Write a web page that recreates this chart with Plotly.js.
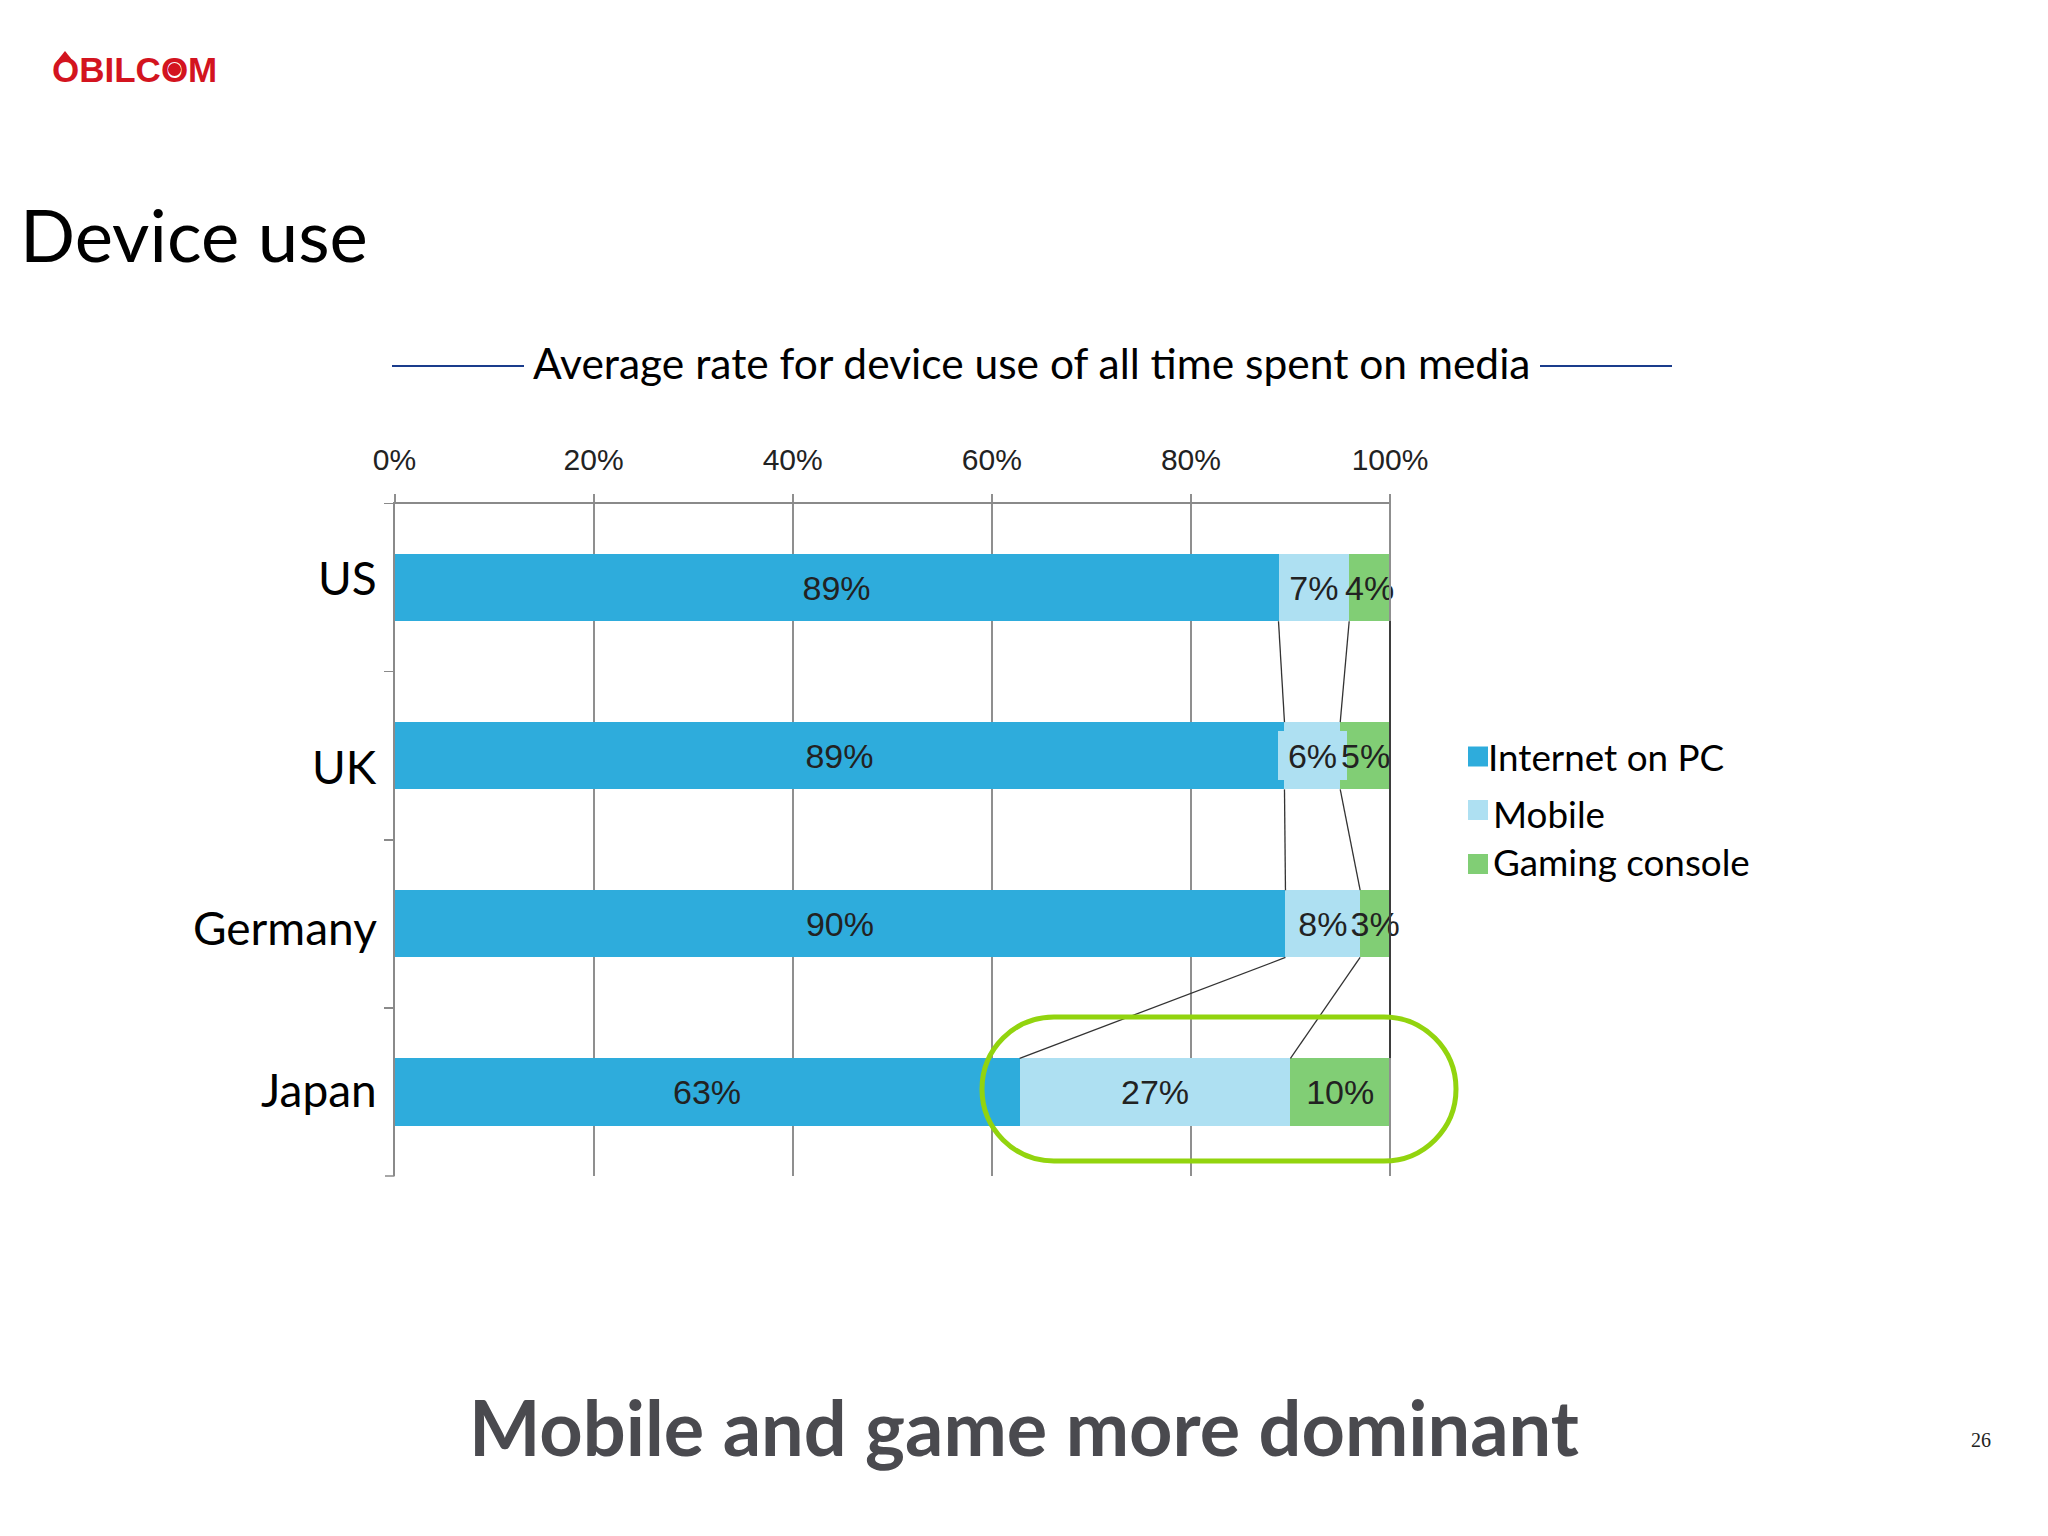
<!DOCTYPE html>
<html><head><meta charset="utf-8">
<script src="https://cdn.plot.ly/plotly-3.0.1.min.js"></script>
<style>html,body{margin:0;padding:0;background:#fff}</style></head>
<body><div id="chart" style="width:2048px;height:1536px"></div>
<script>
const categories = ["US","UK","Germany","Japan"];
const seriesNames = ["Internet on PC","Mobile","Gaming console"];
const internetOnPc = [88.8,89.4,89.5,62.8];
const mobile = [7.1,5.6,7.5,27.2];
const gamingConsole = [4.1,5.0,3.0,10.0];
const internetLabels = ["89%","89%","90%","63%"];
const mobileLabels = ["7%","6%","8%","27%"];
const gamingLabels = ["4%","5%","3%","10%"];
const tickValues = [0,20,40,60,80,100];
const tickLabels = ["0%","20%","40%","60%","80%","100%"];
const colors = ["#2eacdc","#aee0f2","#81ce75"];

const W=2048,H=1536;
const X=p=>p/W, Y=p=>1-p/H;
const sans="Lato, Carlito, sans-serif", arial="'Liberation Sans', Arial, sans-serif";
const labelFont={family:arial,size:34,color:"#222"};

function bar(name,values,labels,color){
  return {type:"bar",orientation:"h",name:name,y:categories,x:values,text:labels,
    textposition:"inside",insidetextanchor:"middle",constraintext:"none",textangle:0,
    cliponaxis:false,textfont:labelFont,marker:{color:color,line:{width:0}},hoverinfo:"name+x",showlegend:false};
}
// UK mobile and gaming labels sit in the annotation layer, with the pale patch behind the 6%
const mobileTrace=bar(seriesNames[1],mobile,mobileLabels.map((l,i)=>i===1?"":l),colors[1]);
const gamingTrace=bar(seriesNames[2],gamingConsole,gamingLabels.map((l,i)=>i===1?"":l),colors[2]);
const data=[bar(seriesNames[0],internetOnPc,internetLabels,colors[0]),mobileTrace,gamingTrace];

function pageText(text,px,py,size,opt){
  opt=opt||{};
  return {text:text,xref:"paper",yref:"paper",x:X(px),y:Y(py),showarrow:false,
    xanchor:opt.anchor||"left",yanchor:"middle",
    font:{family:opt.family||sans,size:size,color:opt.color||"#000",weight:opt.weight||400}};
}
const annotations=[
  pageText("OBILCOM",50,69,35,{family:arial,color:"#d3141f",weight:700}),
  pageText("Device use",18,233,72.5),
  pageText("Average rate for device use of all time spent on media",531,362,42.5),
  pageText("Mobile and game more dominant",467,1426,75.7,{weight:700,color:"#4a4a4f"}),
  pageText("26",1981,1440,20,{family:"'Liberation Serif', serif",anchor:"center",color:"#222"})
];
// category labels
const catLabelY=[578,766,927,1089];
categories.forEach((c,i)=>annotations.push(pageText(c,379,catLabelY[i],46,{anchor:"right"})));
// legend
const legendTextX=[1486,1491,1491], legendY=[757,814,862], swatchY=[756.5,810,864];
seriesNames.forEach((n,i)=>annotations.push(pageText(n,legendTextX[i],legendY[i],36.8)));
// UK mobile + gaming labels
const ukPc=internetOnPc[1], ukMob=mobile[1], ukGame=gamingConsole[1];
annotations.push({text:mobileLabels[1],xref:"x",yref:"y",x:ukPc+ukMob/2,y:1,showarrow:false,
  font:labelFont,bgcolor:colors[1],width:69,height:49,align:"center",valign:"middle",borderpad:0,borderwidth:0});
annotations.push({text:gamingLabels[1],xref:"x",yref:"y",x:ukPc+ukMob+ukGame/2,y:1,showarrow:false,font:labelFont});

const shapes=[];
function pageLine(x0,y0,x1,y1,color,w){shapes.push({type:"line",xref:"paper",yref:"paper",x0:X(x0),x1:X(x1),y0:Y(y0),y1:Y(y1),line:{color:color,width:w}});}
pageLine(392,366,524,366,"#1a3c8c",2);
pageLine(1540,366,1672,366,"#1a3c8c",2);
// 100% line: grey over its whole length, dark between the bars
pageLine(1390,495,1390,1176,"#8f8f8f",2);
pageLine(1390,621,1390,1058,"#222",1.5);
// bottom tick of the category axis
pageLine(385,1176,394.5,1176,"#8a8a8a",1.5);
// logo marks: teardrop on the first O, bullseye in the second
shapes.push({type:"path",xref:"paper",yref:"paper",fillcolor:"#d3141f",line:{width:0},
  path:"M"+X(65)+","+Y(51)+" L"+X(73)+","+Y(61)+" L"+X(57)+","+Y(61)+" Z"});
shapes.push({type:"circle",xref:"paper",yref:"paper",x0:X(168),x1:X(181),y0:Y(63),y1:Y(76),fillcolor:"#d3141f",line:{width:0}});
// connector lines between the stacks
for(let i=0;i<3;i++){
  const a=internetOnPc[i],b=internetOnPc[i+1],c=a+mobile[i],d=b+mobile[i+1];
  [[a,b],[c,d]].forEach(s=>shapes.push({type:"line",xref:"x",yref:"y",x0:s[0],x1:s[1],y0:i+0.2,y1:i+0.8,line:{color:"#333",width:1.3},layer:"above"}));
}
// legend swatches
colors.forEach((c,i)=>shapes.push({type:"rect",xref:"paper",yref:"paper",x0:X(1468),x1:X(1488),y0:Y(swatchY[i]-10),y1:Y(swatchY[i]+10),fillcolor:c,line:{width:0}}));
// green pill around Japan
(function(){
  const l=982,r=1456,t=1017,b=1161,rad=72,k=rad*0.5523;
  const P=(x,y)=>X(x)+","+Y(y);
  shapes.push({type:"path",xref:"paper",yref:"paper",line:{color:"#92d40e",width:5},fillcolor:"rgba(0,0,0,0)",
   path:"M"+P(l+rad,t)+" L"+P(r-rad,t)+" C"+P(r-rad+k,t)+" "+P(r,t+rad-k)+" "+P(r,t+rad)+
        " C"+P(r,b-rad+k)+" "+P(r-rad+k,b)+" "+P(r-rad,b)+" L"+P(l+rad,b)+
        " C"+P(l+rad-k,b)+" "+P(l,b-rad+k)+" "+P(l,b-rad)+" C"+P(l,t+rad-k)+" "+P(l+rad-k,t)+" "+P(l+rad,t)+" Z"});
})();

const layout={
  width:W,height:H,autosize:false,margin:{l:0,r:0,t:0,b:0,pad:0},
  paper_bgcolor:"#fff",plot_bgcolor:"rgba(0,0,0,0)",showlegend:false,
  barmode:"stack",bargap:0.6,
  xaxis:{domain:[X(394.5),X(1390)],range:[0,100],side:"top",tickmode:"array",tickvals:tickValues,ticktext:tickLabels,
    showgrid:true,gridcolor:"#8f8f8f",gridwidth:2,zeroline:false,showline:true,linecolor:"#8a8a8a",linewidth:2,
    ticks:"outside",ticklen:8,tickcolor:"#8f8f8f",tickwidth:2,ticklabelstandoff:12,tickfont:{family:arial,size:30,color:"#222"}},
  yaxis:{domain:[Y(1176),Y(503.6)],type:"category",categoryorder:"array",categoryarray:categories,autorange:"reversed",
    tickson:"boundaries",ticks:"outside",ticklen:9,tickcolor:"#8a8a8a",tickwidth:1.5,showticklabels:false,
    showgrid:false,zeroline:false,showline:true,linecolor:"#8a8a8a",linewidth:2},
  annotations:annotations,shapes:shapes
};
Plotly.newPlot("chart",data,layout,{staticPlot:true,displayModeBar:false});
</script></body></html>
